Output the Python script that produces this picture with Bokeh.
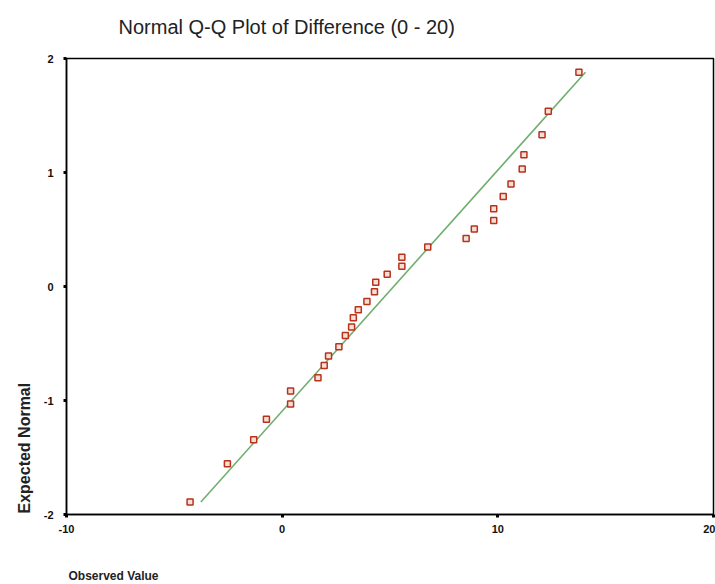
from bokeh.plotting import figure
from bokeh.models import Range1d, FixedTicker, Title, CustomJSTickFormatter
from bokeh.embed import file_html
from bokeh.resources import INLINE

observed = [-4.27, -2.54, -1.32, -0.73, 0.39, 0.39, 1.66, 1.95, 2.15, 2.63,
            2.93, 3.22, 3.30, 3.53, 3.93, 4.28, 4.34, 4.87, 5.55, 5.55,
            6.75, 8.53, 8.91, 9.81, 9.81, 10.25, 10.61, 11.13, 11.21, 12.05,
            12.34, 13.76]
expected = [-1.89, -1.555, -1.345, -1.164, -0.916, -1.03, -0.80, -0.694, -0.61, -0.528,
            -0.429, -0.356, -0.274, -0.204, -0.131, -0.046, 0.038, 0.108, 0.178, 0.256,
            0.347, 0.42, 0.505, 0.58, 0.682, 0.79, 0.899, 1.03, 1.155, 1.332,
            1.537, 1.88]
# Reference line parameters (mean, sd of the sample)
line_mean = 5.17
line_sd = 4.73

x_ticks = [-10, 0, 10, 20]
y_ticks = [-2, -1, 0, 1, 2]

title_text = "Normal Q-Q Plot of Difference (0 - 20)"
x_label = "Observed Value"
y_label = "Expected Normal"

p = figure(width=715, height=584, output_backend="svg", toolbar_location=None,
           x_range=Range1d(-10, 20), y_range=Range1d(-2, 2),
           min_border_left=66, min_border_right=2, min_border_top=58, min_border_bottom=69)
p.background_fill_color = "white"
p.border_fill_color = "white"
p.outline_line_color = "black"
p.outline_line_width = 1.5
p.xgrid.visible = False
p.ygrid.visible = False

for ax in (p.xaxis[0], p.yaxis[0]):
    ax.axis_line_color = "black"
    ax.axis_line_width = 1.5
    ax.major_tick_line_width = 3
    ax.major_tick_in = 0
    ax.major_tick_out = 3
    ax.minor_tick_line_color = None
    ax.major_label_text_font = "Liberation Sans"
    ax.major_label_text_font_style = "bold"
    ax.major_label_text_font_size = "11px"
    ax.major_label_text_color = "#111111"
    ax.formatter = CustomJSTickFormatter(code="return String(tick);")
p.xaxis[0].ticker = FixedTicker(ticks=x_ticks)
p.yaxis[0].ticker = FixedTicker(ticks=y_ticks)
p.xaxis[0].major_label_standoff = 7
p.yaxis[0].major_label_standoff = 10

# reference line spanning the expected range
ly = [min(expected), max(expected)]
lx = [line_mean + line_sd * v for v in ly]
p.line(lx, ly, line_color="#6fae6f", line_width=1.6)

p.scatter(observed, expected, marker="square", size=6,
          line_color="#b8321c", fill_color="#f6e0d6", line_width=1.5)

# spacers (blank) to push the titles away from the frame without growing the panels
p.add_layout(Title(text=" ", text_font_size="1px", standoff=16), "above")
p.add_layout(Title(text=" ", text_font_size="1px", standoff=26), "below")

# title and axis labels placed like the original
p.add_layout(Title(text=title_text, align="left", offset=52, standoff=4,
                   text_font="Liberation Sans", text_font_size="20px",
                   text_font_style="normal", text_color="#222222"), "above")
p.add_layout(Title(text=x_label, align="left", offset=2, standoff=4,
                   text_font="Liberation Sans", text_font_size="12px",
                   text_font_style="bold", text_color="#222222"), "below")
p.add_layout(Title(text=y_label, align="left", offset=1, standoff=15,
                   text_font="Liberation Sans", text_font_size="16px",
                   text_font_style="bold", text_color="#222222"), "left")

open("out.html", "w").write(file_html(p, INLINE))
